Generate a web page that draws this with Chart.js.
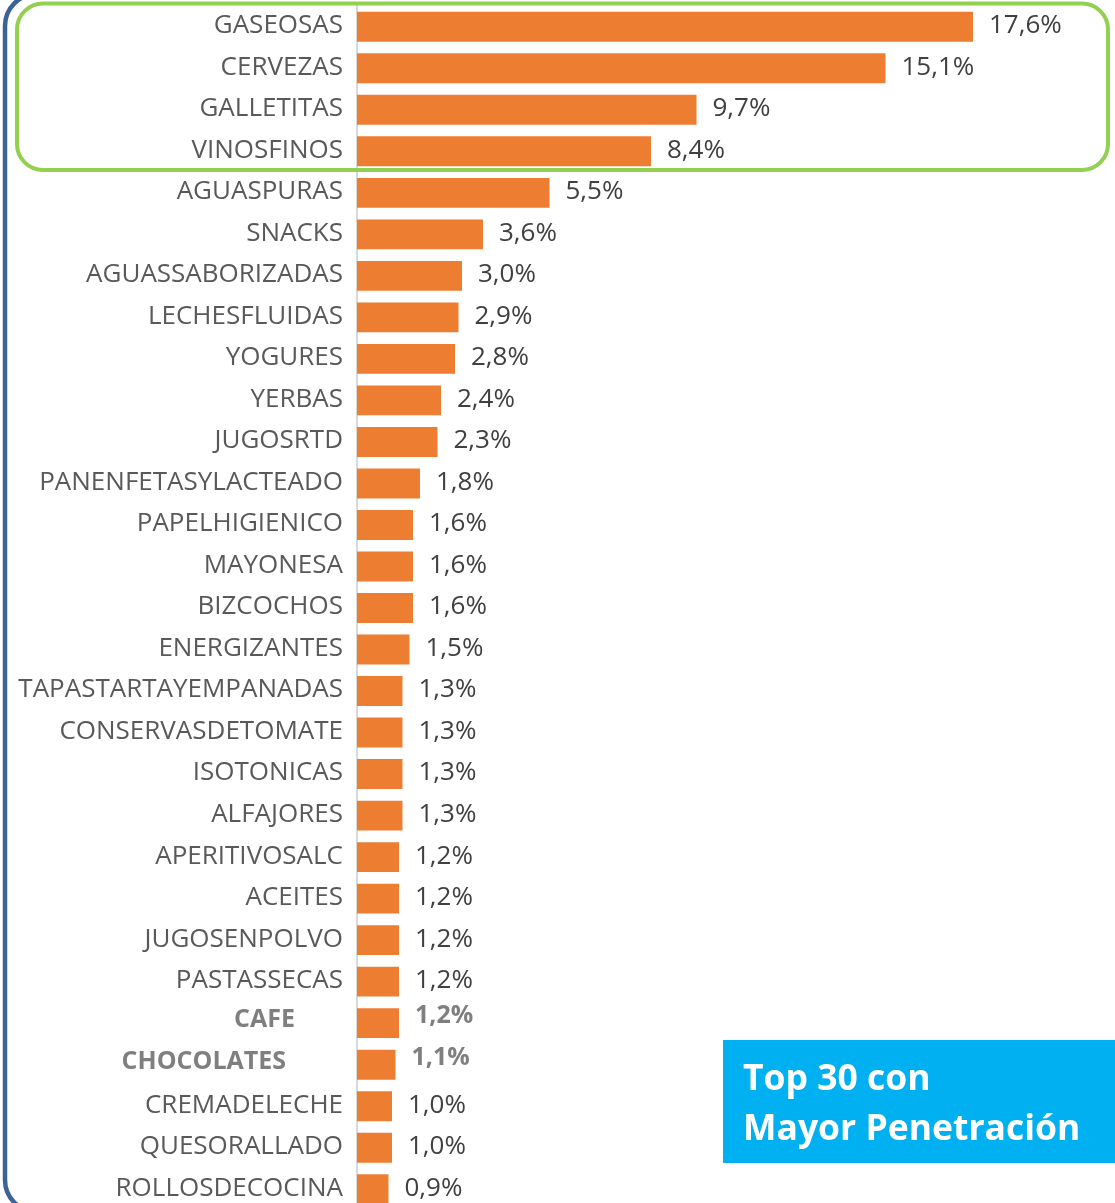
<!DOCTYPE html>
<html>
<head>
<meta charset="utf-8">
<script src="https://cdn.jsdelivr.net/npm/chart.js@4.4.1/dist/chart.umd.min.js"></script>
<style>
  html, body { margin: 0; padding: 0; background: #ffffff; overflow: hidden; }
  #wrap { position: relative; width: 1115px; height: 1212px; }
</style>
</head>
<body>
<div id="wrap"><canvas id="c"></canvas></div>
<script>
const categories = ["GASEOSAS","CERVEZAS","GALLETITAS","VINOSFINOS","AGUASPURAS","SNACKS","AGUASSABORIZADAS","LECHESFLUIDAS","YOGURES","YERBAS","JUGOSRTD","PANENFETASYLACTEADO","PAPELHIGIENICO","MAYONESA","BIZCOCHOS","ENERGIZANTES","TAPASTARTAYEMPANADAS","CONSERVASDETOMATE","ISOTONICAS","ALFAJORES","APERITIVOSALC","ACEITES","JUGOSENPOLVO","PASTASSECAS","CAFE","CHOCOLATES","CREMADELECHE","QUESORALLADO","ROLLOSDECOCINA"];
const penetration = [17.6,15.1,9.7,8.4,5.5,3.6,3.0,2.9,2.8,2.4,2.3,1.8,1.6,1.6,1.6,1.5,1.3,1.3,1.3,1.3,1.2,1.2,1.2,1.2,1.2,1.1,1.0,1.0,0.9];
const highlighted = ["CAFE","CHOCOLATES"];
const boxLines = ["Top 30 con","Mayor Penetración"];

const FONT = '"Open Sans", sans-serif';

function fmt(v){ return v.toFixed(1).replace('.', ',') + '%'; }

const labelsPlugin = {
  id: 'customLabels',
  afterDatasetsDraw(chart) {
    const ctx = chart.ctx;
    const yScale = chart.scales.y;
    const meta = chart.getDatasetMeta(0);
    ctx.save();
    ctx.textBaseline = 'middle';
    categories.forEach((cat, i) => {
      const y = yScale.getPixelForValue(i);
      const hl = highlighted.includes(cat);
      // category label
      ctx.textAlign = 'right';
      if (hl) {
        ctx.font = 'bold 25px ' + FONT;
        ctx.fillStyle = '#7f7f7f';
        const rx = cat === 'CAFE' ? 295 : 286;
        ctx.fillText(cat, rx, y - 3);
      } else {
        ctx.font = '26px ' + FONT;
        ctx.fillStyle = '#595959';
        ctx.fillText(cat, yScale.right - 14, y - 1);
      }
      // value label
      const bar = meta.data[i];
      ctx.textAlign = 'left';
      if (hl) {
        ctx.font = 'bold 25px ' + FONT;
        ctx.fillStyle = '#7f7f7f';
        ctx.fillText(fmt(penetration[i]), bar.x + 16, y - 7);
      } else {
        ctx.font = '26px ' + FONT;
        ctx.fillStyle = '#404040';
        ctx.fillText(fmt(penetration[i]), bar.x + 16, y - 1);
      }
    });
    ctx.restore();
  },
  afterDraw(chart) {
    const ctx = chart.ctx;
    ctx.save();
    // green rounded frame around top 4
    ctx.strokeStyle = '#92d050';
    ctx.lineWidth = 4;
    ctx.beginPath();
    ctx.roundRect(17, 3.5, 1091, 166.5, 26);
    ctx.stroke();
    // dark blue outer frame
    ctx.strokeStyle = '#3b6396';
    ctx.lineWidth = 4.5;
    ctx.beginPath();
    ctx.roundRect(5, -6, 1400, 1218, 32);
    ctx.stroke();
    // blue title box
    ctx.fillStyle = '#00b0f0';
    ctx.fillRect(723, 1040, 400, 123);
    ctx.fillStyle = '#ffffff';
    ctx.font = 'bold 35.5px ' + FONT;
    ctx.textAlign = 'left';
    ctx.textBaseline = 'alphabetic';
    ctx.fillText(boxLines[0], 743, 1090);
    ctx.fillText(boxLines[1], 743, 1140);
    ctx.restore();
  }
};

new Chart(document.getElementById('c'), {
  type: 'bar',
  data: {
    labels: categories,
    datasets: [{
      data: penetration,
      backgroundColor: '#ed7d31',
      borderWidth: 0,
      barPercentage: 0.72,
      categoryPercentage: 1.0
    }]
  },
  options: {
    indexAxis: 'y',
    responsive: true,
    maintainAspectRatio: false,
    animation: false,
    layout: { padding: { top: 6, right: 58, bottom: 2, left: 0 } },
    plugins: { legend: { display: false }, tooltip: { enabled: false } },
    scales: {
      x: {
        min: 0, max: 20,
        display: false
      },
      y: {
        grid: { display: false },
        ticks: { display: false },
        border: { display: true, color: '#d9d9d9', width: 2 },
        afterFit(scale) { scale.width = 357; }
      }
    }
  },
  plugins: [labelsPlugin]
});
</script>
</body>
</html>
